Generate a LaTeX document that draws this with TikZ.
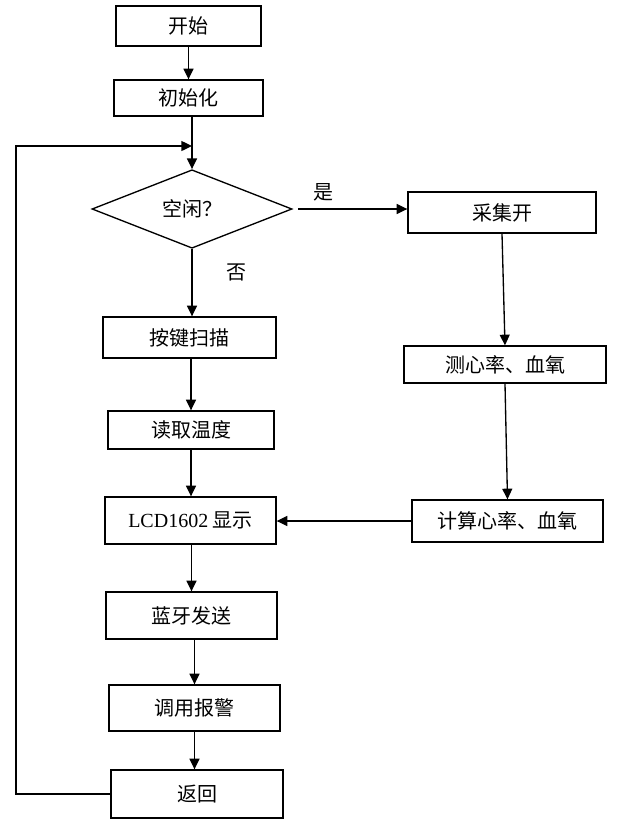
\documentclass[tikz,border=0pt]{standalone}
\usepackage{fontspec}
\setmainfont{Liberation Serif}
\newfontfamily\cjk{Noto Sans CJK SC}
\usetikzlibrary{shapes.geometric,arrows.meta}
\tikzset{
  box/.style={draw, line width=1pt, rectangle, inner sep=0pt, align=center, font=\cjk\fontsize{15}{18}\selectfont},
  dia/.style={draw, line width=1pt, diamond, inner sep=0pt, font=\cjk\fontsize{15}{18}\selectfont},
  lbl/.style={font=\cjk\fontsize{15}{18}\selectfont, inner sep=0pt},
  arr/.style={line width=1pt, -{Triangle[length=8pt,width=7.5pt]}},
  ln/.style={line width=1pt}
}
\begin{document}
\begin{tikzpicture}[x=0.75pt,y=-0.75pt]
\path[use as bounding box, fill=white] (0,0) rectangle (625,825);

\node[box, minimum width=145*0.75pt, minimum height=40*0.75pt] (start) at (188.5,26) {开始};
\node[box, minimum width=149*0.75pt, minimum height=36*0.75pt] (init) at (188.5,98) {初始化};
\node[dia, minimum width=200*0.75pt, minimum height=72*0.75pt] (idle) at (192,209) {空闲？};
\node[box, minimum width=188*0.75pt, minimum height=41*0.75pt] (collect) at (502,212.5) {采集开};
\node[box, minimum width=202*0.75pt, minimum height=37*0.75pt] (measure) at (505,364.5) {测心率、血氧};
\node[box, minimum width=191*0.75pt, minimum height=42*0.75pt] (calc) at (507.5,521) {计算心率、血氧};
\node[box, minimum width=173*0.75pt, minimum height=41*0.75pt] (key) at (189.5,337.5) {按键扫描};
\node[box, minimum width=166*0.75pt, minimum height=38*0.75pt] (temp) at (191,430) {读取温度};
\node[box, minimum width=171*0.75pt, minimum height=47*0.75pt] (lcd) at (190.5,520.5) {{\rmfamily LCD1602} 显示};
\node[box, minimum width=171*0.75pt, minimum height=47*0.75pt] (bt) at (191.5,615.5) {蓝牙发送};
\node[box, minimum width=171*0.75pt, minimum height=46*0.75pt] (alarm) at (194.5,708) {调用报警};
\node[box, minimum width=172*0.75pt, minimum height=48*0.75pt] (ret) at (197,794) {返回};

\node[lbl] (yes) at (323,192) {是};
\node[lbl] (no) at (236,272) {否};

\coordinate (join) at (192,146);
\coordinate (loopl) at (16,794);

\draw[arr] (init.south |- start.south) -- (init.north);
\draw[ln] (idle.north |- init.south) -- (join);
\draw[arr] (join) -- (idle.north);
\draw[arr] (ret.west) -- (loopl) |- (join);
\draw[arr] ([xshift=4pt]idle.east) -- (collect.west |- idle.east);
\draw[arr] (collect.south) -- (measure.north);
\draw[arr] (measure.south) -- (calc.north);
\draw[arr] (calc.west) -- (lcd.east |- calc.west);
\draw[arr] (idle.south) -- (key.north -| idle.south);
\draw[arr] (temp.north |- key.south) -- (temp.north);
\draw[arr] (temp.south) -- (lcd.north -| temp.south);
\draw[arr] (bt.north |- lcd.south) -- (bt.north);
\draw[arr] (alarm.north |- bt.south) -- (alarm.north);
\draw[arr] (alarm.south) -- (ret.north -| alarm.south);
\end{tikzpicture}
\end{document}
